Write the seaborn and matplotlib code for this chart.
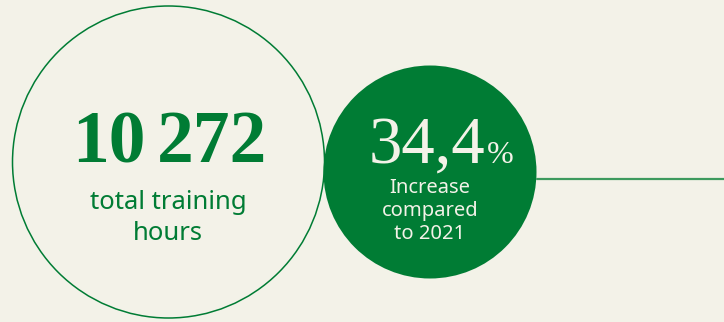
import matplotlib
matplotlib.use("Agg")
import matplotlib.pyplot as plt
import seaborn as sns
import pandas as pd
from matplotlib.patches import Circle

sns.set_style("white")

# Figures shown in the panel
total_hours = [10272]
hours_label = ["total training", "hours"]
increase_pct = [34.4]
base_year = [2021]

GREEN = "#007c34"
CREAM = "#f3f2e8"

fig = plt.figure(figsize=(7.24, 3.22), dpi=100, facecolor=CREAM)
ax = fig.add_axes([0, 0, 1, 1])
ax.set_facecolor(CREAM)
ax.set_xlim(0, 724)
ax.set_ylim(322, 0)
ax.set_aspect("equal")
ax.axis("off")

# Connector line to the right of the filled circle
line_df = pd.DataFrame({"x": [537, 724], "y": [179, 179]})
sns.lineplot(data=line_df, x="x", y="y", ax=ax, color="#3d9a5e", linewidth=1.6)

# Outline circle with the total hours (thousands group set tight)
ax.add_patch(Circle((168.5, 162), 156, facecolor="none", edgecolor=GREEN, linewidth=1.1))
thousands, rest = divmod(total_hours[0], 1000)
ax.text(146, 162, f"{thousands}", ha="right", va="baseline", color=GREEN,
        fontsize=53, fontweight="bold", family="Liberation Serif")
ax.text(157, 162, f"{rest:03d}", ha="left", va="baseline", color=GREEN,
        fontsize=53, fontweight="bold", family="Liberation Serif")
ax.text(168, 209, hours_label[0], ha="center", va="baseline", color=GREEN,
        fontsize=18.5, family="Noto Sans")
ax.text(168, 240, hours_label[1], ha="center", va="baseline", color=GREEN,
        fontsize=18.5, family="Noto Sans")

# Filled circle with the year-on-year increase
ax.add_patch(Circle((430, 172), 106.5, facecolor=GREEN, edgecolor="none"))
pct_txt = f"{increase_pct[0]}".replace(".", ",")
ax.text(485, 163, pct_txt, ha="right", va="baseline", color=CREAM,
        fontsize=48, family="Liberation Serif")
ax.text(487, 163, "%", ha="left", va="baseline", color=CREAM,
        fontsize=23, family="Liberation Serif")
for i, line in enumerate(["Increase", "compared", f"to {base_year[0]}"]):
    ax.text(430, 193 + 23 * i, line, ha="center", va="baseline", color=CREAM,
            fontsize=14.5, family="Noto Sans")

fig.savefig("out.png", dpi=100, facecolor=CREAM)
